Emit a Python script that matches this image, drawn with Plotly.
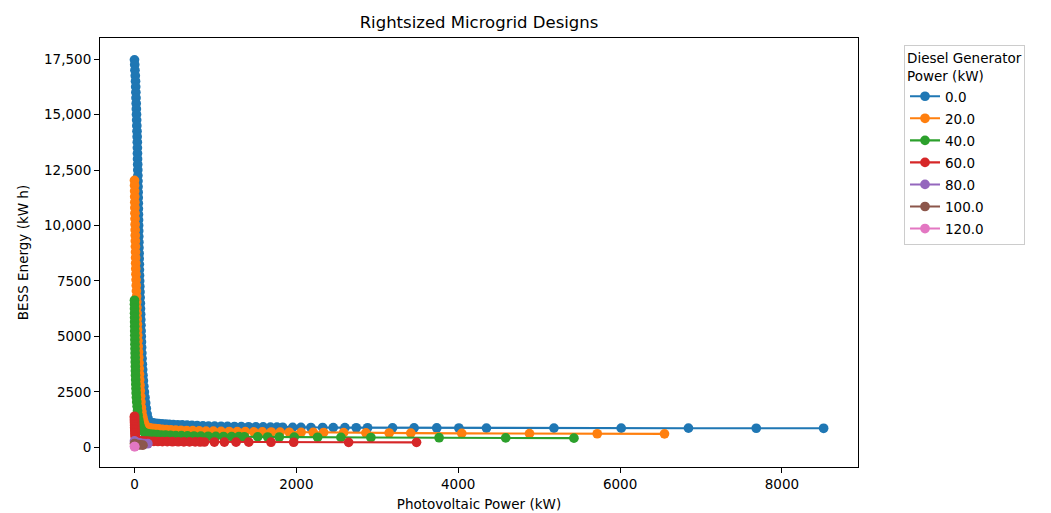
import plotly.graph_objects as go

# ---------------- data ----------------
diesel_labels = ["0.0", "20.0", "40.0", "60.0", "80.0", "100.0", "120.0"]
colors = ["#1f77b4", "#ff7f0e", "#2ca02c", "#d62728", "#9467bd", "#8c564b", "#e377c2"]

pv_0 = [0, 3, 6, 10, 13, 15, 17, 19, 21, 23, 25, 27, 29, 31, 33, 35, 36, 37, 38, 40,
        41, 42, 43, 44, 45, 46, 47, 48, 49, 50, 51, 52, 53, 54, 55, 57, 58, 60, 61, 62,
        64, 66, 68, 70, 72, 74, 76, 78, 80, 82, 84, 86, 88, 91, 94, 97, 101, 105, 110, 116,
        122, 130, 138, 146, 156, 168, 182,
        200, 230, 265, 300, 340, 385, 430, 480, 535, 590, 650, 710, 775, 845, 915, 990, 1070,
        1150, 1235, 1320, 1410, 1500, 1590, 1680, 1760, 1831, 1955, 2057, 2180, 2325, 2456,
        2600, 2740, 2880, 3189, 3455, 3735, 4008, 4349, 5183, 6014, 6845, 7683, 8515]
bess_0 = [17466, 17250, 17000, 16750, 16500, 16250, 16000, 15750, 15500, 15250, 15000, 14750,
          14500, 14250, 14000, 13750, 13500, 13250, 13000, 12750, 12500, 12250, 12000, 11750,
          11500, 11250, 11000, 10750, 10500, 10250, 10000, 9750, 9500, 9250, 9000, 8750, 8500,
          8250, 8000, 7750, 7500, 7250, 7000, 6750, 6500, 6250, 6000, 5750, 5500, 5250, 5000,
          4750, 4500, 4250, 4000, 3750, 3500, 3250, 3000, 2750, 2500, 2250, 2000, 1750, 1500,
          1300, 1150,
          1120, 1100, 1085, 1070, 1060, 1050, 1040, 1030, 1020, 1010, 1000, 990, 980, 970, 960,
          955, 950, 945, 940, 935, 930, 925, 920, 915, 910, 905, 900, 898, 895, 893, 890, 888,
          885, 883, 880, 878, 875, 873, 870, 868, 866, 864, 862, 860]

pv_20 = [0, 1, 2, 3, 4, 5, 6, 7, 8, 9, 10, 11, 12, 13, 14, 15, 16, 18, 20, 22, 24, 26, 28,
         30, 32, 34, 36, 38, 40, 43, 46, 50, 53, 56, 59, 62, 65, 68, 72, 76, 80, 85, 92, 100,
         110, 122, 135,
         160, 190, 225, 260, 300, 345, 395, 450, 510, 575, 645, 720, 800, 885, 975, 1070, 1170,
         1270, 1370, 1475, 1580, 1690, 1800, 1913, 2059, 2209, 2337, 2584, 2859, 3147, 3414,
         4044, 4881, 5718, 6549]
bess_20 = [12030, 11800, 11550, 11300, 11050, 10800, 10550, 10300, 10050, 9800, 9550, 9300,
           9050, 8800, 8550, 8300, 8050, 7800, 7550, 7300, 7050, 6800, 6550, 6300, 6050, 5800,
           5550, 5300, 5050, 4800, 4550, 4300, 4050, 3800, 3550, 3300, 3050, 2800, 2550, 2300,
           2050, 1800, 1600, 1400, 1250, 1100, 980,
           900, 880, 860, 845, 830, 815, 800, 790, 780, 770, 760, 750, 742, 735, 728, 722, 716,
           710, 705, 700, 695, 690, 686, 682, 678, 672, 668, 662, 655, 648, 642, 632, 622, 614,
           608]

pv_40 = [0, 0, 1, 1, 2, 2, 3, 3, 4, 5, 6, 7, 8, 9, 10, 11, 12, 13, 15, 17, 19, 21, 24, 28,
         33, 38, 44, 52, 60, 70, 85, 105,
         130, 160, 195, 235, 280, 330, 385, 445, 510, 580, 655, 735, 820, 910, 1005, 1100, 1200,
         1290, 1357, 1523, 1646, 1789, 1974, 2263, 2551, 2921, 3764, 4587, 5430]
bess_40 = [6630, 6450, 6250, 6050, 5850, 5650, 5450, 5250, 5050, 4850, 4650, 4450, 4250, 4050,
           3850, 3650, 3450, 3250, 3050, 2850, 2650, 2450, 2250, 2050, 1850, 1650, 1450, 1250,
           1100, 950, 820, 720,
           650, 620, 600, 585, 570, 558, 548, 540, 532, 525, 518, 512, 506, 500, 495, 490, 485,
           480, 477, 472, 468, 465, 462, 455, 450, 445, 435, 425, 415]

pv_60 = [0, 0, 1, 1, 2, 2, 3, 3, 4, 5, 6, 7, 8, 10, 13, 17, 22,
         30, 45, 65, 90, 120, 155, 195, 240, 290, 345, 405, 470, 540, 610, 680, 750, 810, 864,
         987, 1111, 1255, 1412, 1687, 1967, 2646, 3485]
bess_60 = [1400, 1330, 1260, 1190, 1120, 1050, 980, 910, 840, 770, 700, 630, 560, 500, 440, 390,
           350,
           320, 305, 295, 288, 282, 277, 272, 268, 264, 261, 258, 255, 252, 250, 248, 246, 244,
           242, 240, 238, 236, 234, 232, 230, 228, 226]

pv_80 = [0, 15, 35, 60, 90, 125, 165]
bess_80 = [290, 250, 220, 200, 185, 172, 165]

pv_100 = [0, 20, 45, 75, 105]
bess_100 = [170, 140, 120, 108, 100]

pv_120 = [0, 3]
bess_120 = [40, 30]

pv_series = [pv_0, pv_20, pv_40, pv_60, pv_80, pv_100, pv_120]
bess_series = [bess_0, bess_20, bess_40, bess_60, bess_80, bess_100, bess_120]

x_ticks = [0, 2000, 4000, 6000, 8000]
x_ticktext = ["0", "2000", "4000", "6000", "8000"]
y_ticks = [0, 2500, 5000, 7500, 10000, 12500, 15000, 17500]
y_ticktext = ["0", "2500", "5000", "7500", "10,000", "12,500", "15,000", "17,500"]

title_text = "Rightsized Microgrid Designs"
x_title = "Photovoltaic Power (kW)"
y_title = "BESS Energy (kW h)"
legend_title = "Diesel Generator<br>Power (kW)"

# ---------------- figure ----------------
FONT = "DejaVu Sans, Verdana, sans-serif"
fig = go.Figure()
for lab, col, xs, ys in zip(diesel_labels, colors, pv_series, bess_series):
    fig.add_trace(go.Scatter(
        x=xs, y=ys, mode="lines+markers", name=lab, legendgroup=lab,
        line=dict(color=col, width=2.1),
        marker=dict(color=col, size=9.7, line=dict(width=0)),
    ))

axis_common = dict(
    showline=True, mirror=True, linecolor="black", linewidth=1.1,
    ticks="outside", ticklen=5, tickwidth=1.1, tickcolor="black",
    showgrid=False, zeroline=False,
    tickfont=dict(family=FONT, size=13.5, color="#000000"),
)

fig.update_layout(
    width=1051, height=513,
    margin=dict(l=100, r=193, t=38, b=46, autoexpand=False),
    paper_bgcolor="white", plot_bgcolor="white",
    font=dict(family=FONT, color="#000000"),
    title=dict(text=title_text, x=0.5, xref="paper", xanchor="center",
               y=1 - 22 / 513, yref="container", yanchor="middle",
               font=dict(family=FONT, size=16.5, color="#000000")),
    xaxis=dict(range=[-426, 8940], tickvals=x_ticks, ticktext=x_ticktext,
               title=dict(text=x_title, font=dict(family=FONT, size=13.5), standoff=8),
               **axis_common),
    yaxis=dict(range=[-885, 18450], tickvals=y_ticks, ticktext=y_ticktext,
               title=dict(text=y_title, font=dict(family=FONT, size=13.5), standoff=12),
               **axis_common),
    legend=dict(
        x=1.0607, xanchor="left", y=0.984, yanchor="top",
        bordercolor="#cccccc", borderwidth=1, bgcolor="white",
        font=dict(family=FONT, size=13.5),
        title=dict(text=legend_title, font=dict(family=FONT, size=13.5)),
        traceorder="grouped", tracegroupgap=1.5,
    ),
    showlegend=True,
)

fig.write_html("out.html")
